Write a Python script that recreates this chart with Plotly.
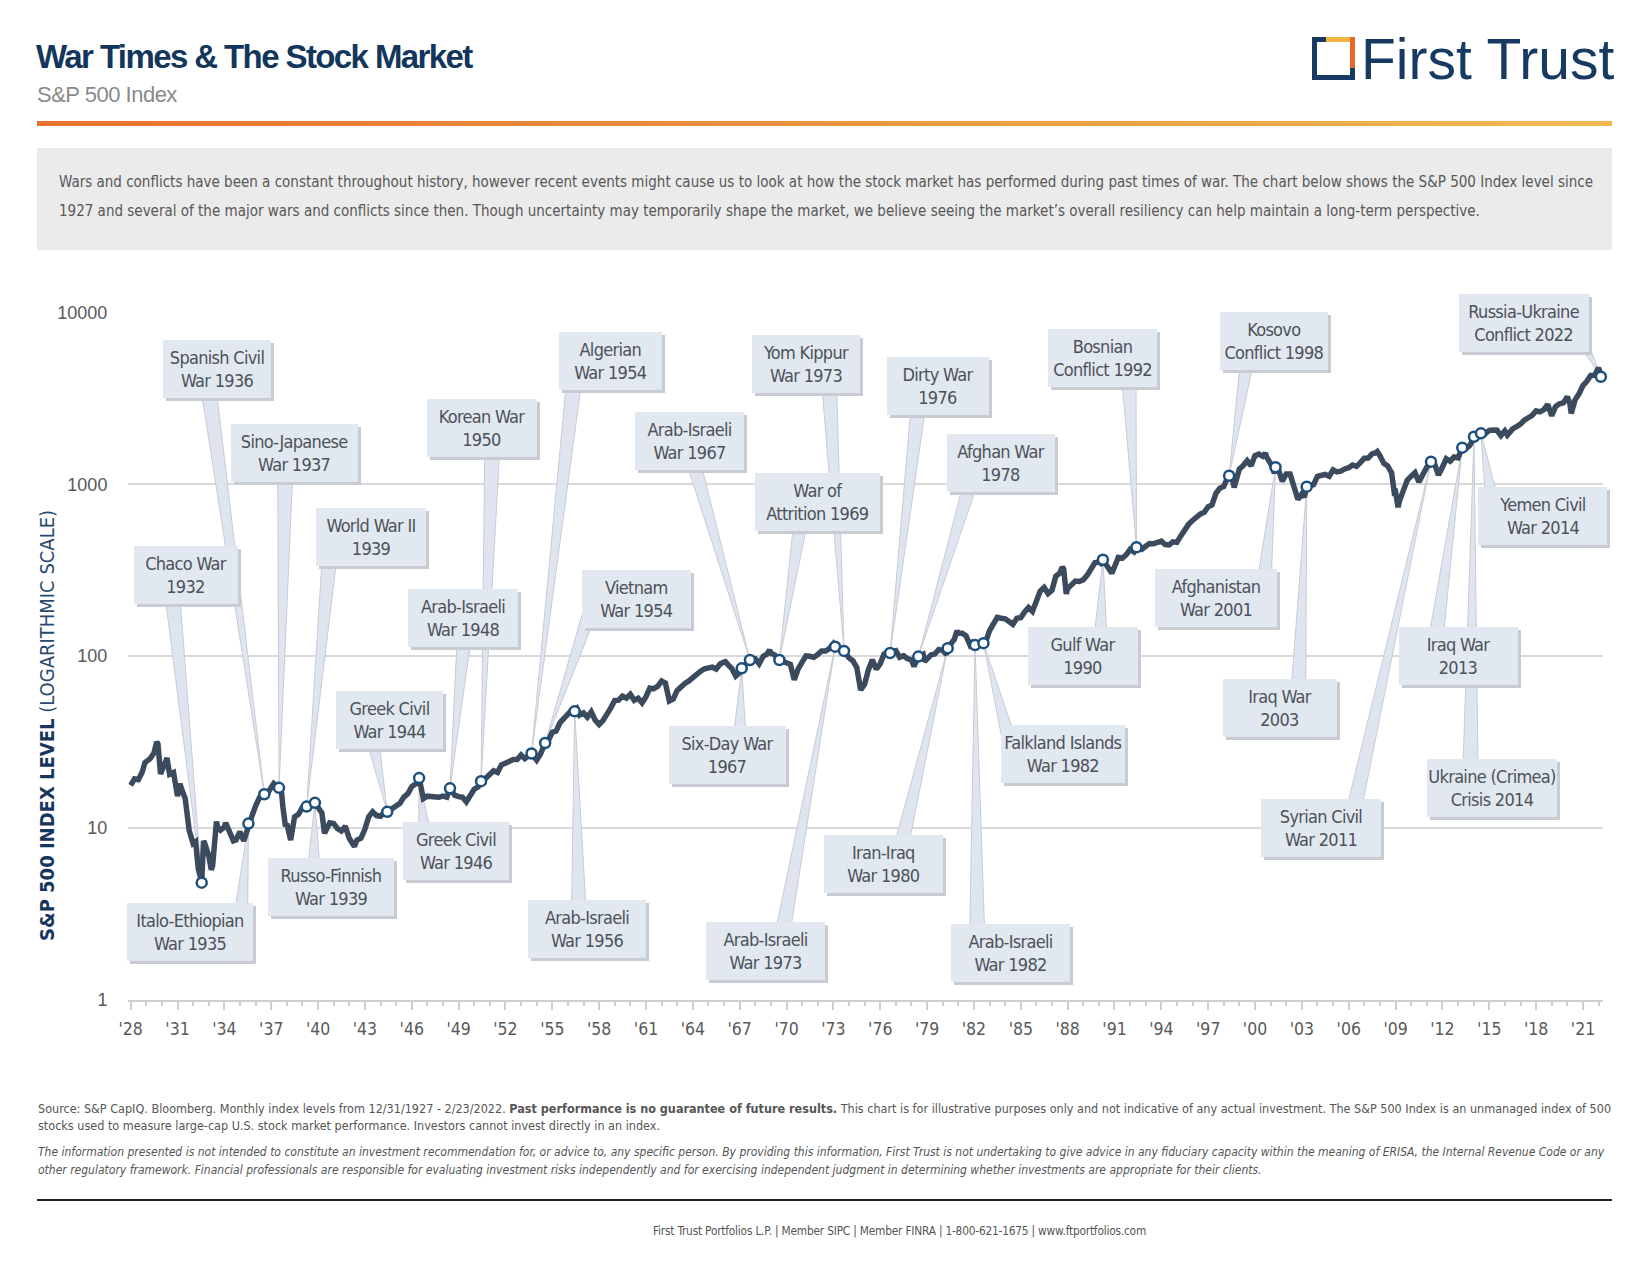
import math
import calendar
from datetime import datetime, timedelta
import plotly.graph_objects as go

W, H = 1650, 1275
COND = "DejaVu Sans Condensed, DejaVu Sans, sans-serif"
SANS = "Liberation Sans, Arial, sans-serif"

# ---------------- data: S&P 500 month-end levels (read / estimated) ----------------
SP_DATES = [
    '1927-12', '1928-03', '1928-06', '1928-09', '1928-11', '1928-12', '1929-03', '1929-06', '1929-08', '1929-09',
    '1929-10', '1929-11', '1929-12', '1930-03', '1930-04', '1930-06', '1930-09', '1930-12', '1931-02', '1931-03',
    '1931-06', '1931-09', '1931-12', '1932-02', '1932-03', '1932-04', '1932-08', '1932-09', '1932-12', '1933-02',
    '1933-03', '1933-06', '1933-07', '1933-09', '1933-12', '1934-01', '1934-03', '1934-07', '1934-09', '1934-12',
    '1935-03', '1935-09', '1935-12', '1936-03', '1936-09', '1936-12', '1937-02', '1937-08', '1937-09', '1937-11',
    '1937-12', '1938-03', '1938-06', '1938-09', '1938-12', '1940-03', '1940-05', '1940-09', '1940-12', '1941-03',
    '1941-06', '1941-09', '1941-12', '1942-04', '1942-06', '1942-09', '1942-12', '1943-03', '1943-06', '1943-09',
    '1943-12', '1944-03', '1944-09', '1944-12', '1945-03', '1945-06', '1945-09', '1945-12', '1946-03', '1946-09',
    '1946-12', '1947-03', '1947-06', '1947-09', '1947-12', '1948-03', '1948-09', '1948-12', '1949-03', '1949-06',
    '1949-09', '1949-12', '1950-03', '1950-09', '1950-12', '1951-03', '1951-06', '1951-09', '1951-12', '1952-03',
    '1952-06', '1952-09', '1952-12', '1953-03', '1953-12', '1954-03', '1954-09', '1954-12', '1955-03', '1955-06',
    '1955-09', '1955-12', '1956-03', '1956-07', '1956-09', '1956-12', '1957-03', '1957-06', '1957-09', '1957-12',
    '1958-03', '1958-06', '1958-09', '1958-12', '1959-03', '1959-06', '1959-09', '1959-12', '1960-03', '1960-06',
    '1960-09', '1960-12', '1961-03', '1961-06', '1961-09', '1961-12', '1962-03', '1962-06', '1962-09', '1962-12',
    '1963-03', '1963-06', '1963-09', '1963-12', '1964-03', '1964-06', '1964-09', '1964-12', '1965-03', '1965-06',
    '1965-09', '1965-12', '1966-01', '1966-03', '1966-06', '1966-09', '1966-12', '1967-12', '1968-03', '1968-06',
    '1968-09', '1968-11', '1968-12', '1969-03', '1969-09', '1969-12', '1970-03', '1970-06', '1970-09', '1970-12',
    '1971-03', '1971-06', '1971-09', '1971-12', '1972-03', '1972-06', '1972-09', '1972-12', '1973-12', '1974-03',
    '1974-06', '1974-09', '1974-12', '1975-03', '1975-06', '1975-09', '1975-12', '1976-03', '1976-12', '1977-03',
    '1977-06', '1977-09', '1977-12', '1978-02', '1978-09', '1978-10', '1978-12', '1979-03', '1979-06', '1979-09',
    '1979-12', '1980-03', '1980-09', '1980-11', '1980-12', '1981-03', '1981-06', '1981-09', '1981-12', '1982-09',
    '1982-12', '1983-03', '1983-06', '1983-09', '1983-12', '1984-03', '1984-06', '1984-09', '1984-12', '1985-03',
    '1985-06', '1985-09', '1985-12', '1986-03', '1986-06', '1986-09', '1986-12', '1987-03', '1987-06', '1987-08',
    '1987-09', '1987-11', '1987-12', '1988-03', '1988-06', '1988-09', '1988-12', '1989-03', '1989-06', '1989-09',
    '1989-12', '1990-03', '1990-10', '1990-12', '1991-03', '1991-06', '1991-09', '1991-12', '1992-03', '1992-09',
    '1992-12', '1993-03', '1993-06', '1993-09', '1993-12', '1994-03', '1994-06', '1994-09', '1994-12', '1995-03',
    '1995-06', '1995-09', '1995-12', '1996-03', '1996-06', '1996-09', '1996-12', '1997-03', '1997-06', '1997-09',
    '1997-12', '1998-03', '1998-06', '1998-08', '1998-09', '1998-12', '1999-03', '1999-06', '1999-09', '1999-12',
    '2000-03', '2000-06', '2000-08', '2000-09', '2000-12', '2001-03', '2001-06', '2001-09', '2001-12', '2002-03',
    '2002-06', '2002-09', '2002-12', '2003-02', '2003-06', '2003-09', '2003-12', '2004-03', '2004-06', '2004-09',
    '2004-12', '2005-03', '2005-06', '2005-09', '2005-12', '2006-03', '2006-06', '2006-09', '2006-12', '2007-03',
    '2007-06', '2007-09', '2007-10', '2007-12', '2008-03', '2008-06', '2008-09', '2008-11', '2008-12', '2009-02',
    '2009-03', '2009-06', '2009-09', '2009-12', '2010-03', '2010-06', '2010-09', '2010-12', '2011-03', '2011-06',
    '2011-09', '2011-12', '2012-03', '2012-06', '2012-09', '2012-12', '2013-03', '2013-06', '2013-09', '2013-12',
    '2014-03', '2014-09', '2014-12', '2015-03', '2015-06', '2015-09', '2015-12', '2016-02', '2016-06', '2016-09',
    '2016-12', '2017-03', '2017-06', '2017-09', '2017-12', '2018-03', '2018-06', '2018-09', '2018-12', '2019-03',
    '2019-06', '2019-09', '2019-12', '2020-02', '2020-03', '2020-06', '2020-09', '2020-12', '2021-03', '2021-06',
    '2021-09', '2021-12', '2022-01',
]
SP_VALUES = [
    17.66, 19.3, 19.1, 21.2, 24.0, 24.4, 25.3, 27.3, 31.7, 30.8,
    25.0, 20.6, 21.5, 24.9, 25.5, 20.5, 21.0, 15.3, 18.1, 17.0,
    14.8, 9.7, 8.1, 8.3, 7.3, 5.8, 8.4, 8.1, 6.9, 5.7,
    6.0, 10.9, 10.0, 9.7, 10.1, 10.7, 10.0, 8.4, 8.5, 9.5,
    8.4, 11.6, 13.4, 15.0, 15.8, 17.2, 18.1, 16.0, 13.3, 10.2,
    10.6, 8.5, 11.6, 12.0, 13.2, 12.2, 9.3, 10.7, 10.6, 9.9,
    9.6, 10.2, 8.7, 7.8, 8.5, 8.7, 9.8, 11.6, 12.4, 11.8,
    11.7, 12.3, 12.9, 13.3, 13.9, 15.1, 15.8, 17.4, 18.0, 14.8,
    15.3, 15.2, 15.0, 15.1, 15.3, 15.1, 15.5, 15.2, 15.1, 14.2,
    15.6, 16.8, 17.3, 19.5, 20.4, 21.5, 21.0, 23.3, 23.8, 24.4,
    25.0, 25.0, 26.6, 25.3, 24.8, 26.9, 32.3, 36.0, 36.6, 41.0,
    43.7, 45.5, 48.5, 49.4, 45.4, 46.7, 44.1, 47.4, 42.4, 40.0,
    42.1, 45.2, 50.0, 55.2, 55.4, 58.5, 56.9, 59.9, 55.3, 56.9,
    53.5, 58.1, 65.1, 64.6, 66.7, 71.6, 69.6, 54.8, 56.3, 63.1,
    66.6, 69.4, 71.7, 75.0, 78.9, 81.7, 84.2, 84.8, 86.2, 84.1,
    90.0, 92.4, 92.9, 89.2, 84.7, 76.6, 80.3, 96.5, 90.2, 99.6,
    102.7, 108.4, 103.9, 101.5, 93.1, 92.1, 89.6, 72.7, 84.3, 92.2,
    100.3, 99.7, 98.3, 102.1, 107.2, 107.1, 110.6, 118.1, 97.6, 94.0,
    86.0, 63.5, 68.6, 83.4, 95.2, 83.9, 90.2, 102.8, 107.5, 98.4,
    100.5, 96.5, 95.1, 87.0, 102.5, 93.2, 96.1, 101.6, 102.9, 109.3,
    107.9, 102.1, 125.5, 140.5, 135.8, 136.0, 131.2, 116.2, 122.6, 120.4,
    140.6, 153.0, 168.1, 166.1, 164.9, 159.2, 153.2, 166.1, 167.2, 180.7,
    191.9, 182.1, 211.3, 238.9, 250.8, 231.3, 242.2, 291.7, 304.0, 329.8,
    321.8, 230.3, 247.1, 258.9, 273.5, 271.9, 277.7, 294.9, 318.0, 349.2,
    353.4, 339.9, 304.0, 330.2, 375.2, 371.2, 387.9, 417.1, 403.7, 417.8,
    435.7, 451.7, 450.5, 458.9, 466.5, 445.8, 444.3, 462.7, 459.3, 500.7,
    544.8, 584.4, 615.9, 645.5, 670.6, 687.3, 740.7, 757.1, 885.1, 947.3,
    970.4, 1101.8, 1133.8, 957.3, 1017.0, 1229.2, 1286.4, 1372.7, 1282.7, 1469.3,
    1498.6, 1454.6, 1517.7, 1436.5, 1320.3, 1160.3, 1224.4, 1040.9, 1148.1, 1147.4,
    989.8, 815.3, 879.8, 841.2, 974.5, 996.0, 1111.9, 1126.2, 1140.8, 1114.6,
    1211.9, 1180.6, 1191.3, 1228.8, 1248.3, 1294.8, 1270.2, 1335.9, 1418.3, 1420.9,
    1503.4, 1526.8, 1549.4, 1468.4, 1322.7, 1280.0, 1166.4, 896.2, 903.3, 735.1,
    797.9, 919.3, 1057.1, 1115.1, 1169.4, 1030.7, 1141.2, 1257.6, 1325.8, 1320.6,
    1131.4, 1257.6, 1408.5, 1362.2, 1440.7, 1426.2, 1569.2, 1606.3, 1681.6, 1848.4,
    1872.3, 1972.3, 2058.9, 2067.9, 2063.1, 1920.0, 2043.9, 1932.2, 2098.9, 2168.3,
    2238.8, 2362.7, 2423.4, 2519.4, 2673.6, 2640.9, 2718.4, 2914.0, 2506.9, 2834.4,
    2941.8, 2976.7, 3230.8, 2954.2, 2584.6, 3100.3, 3363.0, 3756.1, 3972.9, 4297.5,
    4307.5, 4766.2, 4515.6,
]

# ---------------- data: wars & conflicts (date as decimal year, index level) ----------------
WAR_LABELS = [
    'Chaco War<br>1932', 'Italo-Ethiopian<br>War 1935', 'Spanish Civil<br>War 1936', 'Sino-Japanese<br>War 1937',
    'World War II<br>1939', 'Russo-Finnish<br>War 1939', 'Greek Civil<br>War 1944', 'Greek Civil<br>War 1946',
    'Arab-Israeli<br>War 1948', 'Korean War<br>1950', 'Algerian<br>War 1954', 'Vietnam<br>War 1954',
    'Arab-Israeli<br>War 1956', 'Six-Day War<br>1967', 'Arab-Israeli<br>War 1967', 'War of<br>Attrition 1969',
    'Arab-Israeli<br>War 1973', 'Yom Kippur<br>War 1973', 'Dirty War<br>1976', 'Afghan War<br>1978',
    'Iran-Iraq<br>War 1980', 'Arab-Israeli<br>War 1982', 'Falkland Islands<br>War 1982', 'Gulf War<br>1990',
    'Bosnian<br>Conflict 1992', 'Kosovo<br>Conflict 1998', 'Afghanistan<br>War 2001', 'Iraq War<br>2003',
    'Syrian Civil<br>War 2011', 'Iraq War<br>2013', 'Ukraine (Crimea)<br>Crisis 2014', 'Yemen Civil<br>War 2014',
    'Russia-Ukraine<br>Conflict 2022',
]
WAR_YEARS = [
    1932.55, 1935.54, 1936.56, 1937.50, 1939.27, 1939.80, 1944.43, 1946.47,
    1948.45, 1950.44, 1953.67, 1954.54, 1956.43, 1967.13, 1967.66, 1969.54,
    1973.11, 1973.68, 1976.63, 1978.44, 1980.32, 1982.07, 1982.61, 1990.26,
    1992.41, 1998.34, 2001.31, 2003.31, 2011.27, 2013.27, 2014.02, 2014.47,
    2022.15,
]
WAR_VALUES = [
    4.8, 10.6, 15.7, 17.1, 13.3, 14.0, 12.4, 19.5,
    17.0, 18.7, 27.1, 31.2, 47.7, 84.9, 94.9, 94.9,
    113.5, 107.2, 104.2, 99.3, 111.2, 115.9, 118.9, 364.0,
    430.0, 1123.0, 1258.0, 969.0, 1355.0, 1634.0, 1892.0, 1980.0,
    4225.5,
]

TICK_YEARS = [1928, 1931, 1934, 1937, 1940, 1943, 1946, 1949, 1952, 1955, 1958, 1961, 1964, 1967, 1970, 1973,
              1976, 1979, 1982, 1985, 1988, 1991, 1994, 1997, 2000, 2003, 2006, 2009, 2012, 2015, 2018, 2021]
TICK_TEXT = ["'28", "'31", "'34", "'37", "'40", "'43", "'46", "'49", "'52", "'55", "'58", "'61", "'64", "'67", "'70",
             "'73", "'76", "'79", "'82", "'85", "'88", "'91", "'94", "'97", "'00", "'03", "'06", "'09", "'12", "'15",
             "'18", "'21"]
Y_TICKS = [1, 10, 100, 1000, 10000]
Y_TICK_TEXT = ['1', '10', '100', '1000', '10000']

# ---------------- layout: callout box placement ----------------
# box centre (decimal year, log10 level), box width (px), pointer base offset from box centre (px)
CALLOUT_YEAR = [
    1931.56, 1931.77, 1933.52, 1938.50, 1943.42, 1940.80, 1944.57, 1948.81,
    1949.29, 1950.50, 1958.72, 1960.40, 1957.24, 1966.20, 1963.77, 1972.00,
    1968.63, 1971.25, 1979.68, 1983.72, 1976.24, 1984.33, 1987.70, 1988.98,
    1990.26, 2001.24, 1997.47, 2001.58, 2004.21, 2013.03, 2015.19, 2018.42,
    2017.21,
]
CALLOUT_LOG = [
    2.475, 0.392, 3.669, 3.185, 2.695, 0.655, 1.629, 0.864,
    2.224, 3.326, 3.718, 2.334, 0.410, 1.427, 3.253, 2.897,
    0.282, 3.700, 3.571, 3.124, 0.790, 0.270, 1.433, 2.003,
    3.737, 3.835, 2.340, 1.697, 0.998, 2.003, 1.231, 2.818,
    3.939,
]
CALLOUT_W = [
    104, 126, 108, 127, 110, 126, 107, 106,
    110, 110, 103, 109, 118, 117, 109, 125,
    119, 108, 102, 108, 119, 119, 124, 110,
    109, 108, 122, 114, 120, 119, 130, 129,
    130,
]
CALLOUT_DX = [
    -16, 50, -11, -9, -40, -17, -21, -29,
    3, 11, -34, -42, -8, 12, -2, -14,
    14, 22, -17, -24, 13, -33, -50, 17,
    25, -24, 47, 18, 29, -25, -22, -48,
    49,
]


def month_end(s):
    y, m = map(int, s.split('-'))
    return datetime(y, m, calendar.monthrange(y, m)[1])


def from_year(yf):
    y = int(math.floor(yf))
    start = datetime(y, 1, 1)
    days = (datetime(y + 1, 1, 1) - start).days
    return start + timedelta(days=(yf - y) * days)


def ds(d):
    return d.strftime('%Y-%m-%d')


def pxx(x):
    return x / W


def pxy(y):
    return 1 - y / H


def spaced(text, ls):
    return '<br>'.join("<span style='letter-spacing:%spx'>%s</span>" % (ls, t) for t in text.split('<br>'))


# axes geometry (pixels) and x range
PL, PR = 128.4, 1602.7
PT, PB = 312.5, 999.7
X0, X1 = 1927.857, 2022.265
YEARS_PER_PX = (X1 - X0) / (PR - PL)

# merge index readings with the event readings so markers sit on the line
pts = {month_end(d): v for d, v in zip(SP_DATES, SP_VALUES)}
for yr, v in zip(WAR_YEARS, WAR_VALUES):
    pts[from_year(yr)] = v
line_x = sorted(pts)
line_y = [pts[d] for d in line_x]

war_x = [from_year(y) for y in WAR_YEARS]

fig = go.Figure()

# callout pointers (wedges)
HW = 8 * YEARS_PER_PX
wx, wy = [], []
for i in range(len(WAR_LABELS)):
    ly = CALLOUT_YEAR[i] + CALLOUT_DX[i] * YEARS_PER_PX
    lv = 10 ** CALLOUT_LOG[i]
    wx += [ds(war_x[i]), ds(from_year(ly - HW)), ds(from_year(ly + HW)), ds(war_x[i]), None]
    wy += [WAR_VALUES[i], lv, lv, WAR_VALUES[i], None]
fig.add_trace(go.Scatter(x=wx, y=wy, mode='lines', fill='toself', fillcolor='#dfe5ee',
                         line=dict(color='#c6ccd6', width=1), hoverinfo='skip', showlegend=False))

fig.add_trace(go.Scatter(x=[ds(d) for d in line_x], y=line_y, mode='lines',
                         line=dict(color='#3c4a5d', width=5.5), hoverinfo='skip', showlegend=False))
fig.add_trace(go.Scatter(x=[ds(d) for d in war_x], y=WAR_VALUES, mode='markers', cliponaxis=False,
                         marker=dict(symbol='circle', size=10, color='white',
                                     line=dict(color='#1d4f7c', width=2.5)),
                         hoverinfo='skip', showlegend=False))

annotations = []
shapes = []

# callout boxes (shadow first, then box)
for layer in ('shadow', 'box'):
    for i, lab in enumerate(WAR_LABELS):
        a = dict(x=ds(from_year(CALLOUT_YEAR[i])), y=CALLOUT_LOG[i], xref='x', yref='y', showarrow=False,
                 width=CALLOUT_W[i], height=58, borderpad=0, borderwidth=0, align='center', valign='middle',
                 text=spaced(lab, -0.7))
        if layer == 'shadow':
            a.update(bgcolor='#c8ccd2', xshift=3, yshift=-3,
                     font=dict(family=COND, size=18, color='rgba(0,0,0,0)'))
        else:
            a.update(bgcolor='#e2e8f0', font=dict(family=COND, size=18, color='#4c5259'))
        annotations.append(a)

# title & subtitle
annotations.append(dict(xref='paper', yref='paper', x=pxx(34), y=pxy(56), xanchor='left', yanchor='middle',
                        showarrow=False,
                        text="<b><span style='letter-spacing:-1.6px'>War Times &amp; The Stock Market</span></b>",
                        font=dict(family=SANS, size=33, color='#13365c')))
annotations.append(dict(xref='paper', yref='paper', x=pxx(35), y=pxy(94), xanchor='left', yanchor='middle',
                        showarrow=False, text="<span style='letter-spacing:-0.5px'>S&amp;P 500 Index</span>",
                        font=dict(family=SANS, size=22, color='#8a8a8a')))
# logo text
annotations.append(dict(xref='paper', yref='paper', x=pxx(1616), y=pxy(59), xanchor='right', yanchor='middle',
                        showarrow=False, text='First Trust',
                        font=dict(family=SANS, size=57, color='#173a63')))

# intro box text
intro = [
    'Wars and conflicts have been a constant throughout history, however recent events might cause us to look at how the stock market has performed during past times of war. The chart below shows the S&amp;P 500 Index level since',
    '1927 and several of the major wars and conflicts since then. Though uncertainty may temporarily shape the market, we believe seeing the market\u2019s overall resiliency can help maintain a long-term perspective.',
]
for k, t in enumerate(intro):
    annotations.append(dict(xref='paper', yref='paper', x=pxx(57), y=pxy(182 + 29 * k), xanchor='left',
                            yanchor='middle', showarrow=False, text=t,
                            font=dict(family=COND, size=15.0, color='#575757')))

# y-axis title
annotations.append(dict(xref='paper', yref='paper', x=pxx(47), y=pxy(726), xanchor='center', yanchor='middle',
                        showarrow=False, textangle=-90,
                        text='<b>S&amp;P 500 INDEX LEVEL</b> <span style="color:#2a4a70">(LOGARITHMIC SCALE)</span>',
                        font=dict(family=COND, size=20, color='#17365d')))

# footer
foot = [
    (1108, 12.5, 'Source: S&amp;P CapIQ. Bloomberg. Monthly index levels from 12/31/1927 - 2/23/2022. <b>Past performance is no guarantee of future results.</b> This chart is for illustrative purposes only and not indicative of any actual investment. The S&amp;P 500 Index is an unmanaged index of 500'),
    (1125, 12.5, 'stocks used to measure large-cap U.S. stock market performance. Investors cannot invest directly in an index.'),
    (1152, 12.0, '<i>The information presented is not intended to constitute an investment recommendation for, or advice to, any specific person. By providing this information, First Trust is not undertaking to give advice in any fiduciary capacity within the meaning of ERISA, the Internal Revenue Code or any</i>'),
    (1170, 12.0, '<i>other regulatory framework. Financial professionals are responsible for evaluating investment risks independently and for exercising independent judgment in determining whether investments are appropriate for their clients.</i>'),
]
for yy, sz, t in foot:
    annotations.append(dict(xref='paper', yref='paper', x=pxx(36), y=pxy(yy), xanchor='left', yanchor='middle',
                            showarrow=False, text=t, font=dict(family=COND, size=sz, color='#555555')))
annotations.append(dict(xref='paper', yref='paper', x=pxx(900), y=pxy(1231), xanchor='center', yanchor='middle',
                        showarrow=False,
                        text="<span style='letter-spacing:-0.2px'>First Trust Portfolios L.P. | Member SIPC | Member FINRA | 1-800-621-1675 | www.ftportfolios.com</span>",
                        font=dict(family=COND, size=11.8, color='#555555')))

# gradient rule under title
N = 70
x0, x1 = 37, 1612
c0, c1 = (0xe8, 0x72, 0x2c), (0xf1, 0xb8, 0x52)
for k in range(N):
    t = k / (N - 1)
    col = 'rgb(%d,%d,%d)' % tuple(round(a + (b - a) * t) for a, b in zip(c0, c1))
    xa = x0 + (x1 - x0) * k / N
    xb = x0 + (x1 - x0) * (k + 1) / N + 0.6
    shapes.append(dict(type='rect', xref='paper', yref='paper', x0=pxx(xa), x1=pxx(min(xb, x1)),
                       y0=pxy(126), y1=pxy(121), fillcolor=col, line=dict(width=0), layer='above'))

# intro gray box
shapes.append(dict(type='rect', xref='paper', yref='paper', x0=pxx(37), x1=pxx(1612), y0=pxy(250), y1=pxy(148),
                   fillcolor='#ebebeb', line=dict(width=0), layer='below'))
# footer rule
shapes.append(dict(type='line', xref='paper', yref='paper', x0=pxx(37), x1=pxx(1612), y0=pxy(1200), y1=pxy(1200),
                   line=dict(color='#222222', width=2)))

# logo square
NAVY = '#173a63'
logo = [
    (1312, 1317, 37, 80, NAVY),
    (1312, 1355, 75, 80, NAVY),
    (1312, 1326, 37, 42, NAVY),
    (1326, 1355, 37, 42, '#f2b544'),
    (1350, 1355, 37, 68, '#e8682a'),
    (1350, 1355, 68, 80, NAVY),
]
for a, b, c, d, col in logo:
    shapes.append(dict(type='rect', xref='paper', yref='paper', x0=pxx(a), x1=pxx(b), y0=pxy(d), y1=pxy(c),
                       fillcolor=col, line=dict(width=0)))

fig.update_layout(
    width=W, height=H, margin=dict(l=0, r=0, t=0, b=0, autoexpand=False),
    paper_bgcolor='white', plot_bgcolor='white', showlegend=False,
    annotations=annotations, shapes=shapes,
    xaxis=dict(type='date', domain=[PL / W, PR / W], automargin=False,
               range=[ds(from_year(X0)), ds(from_year(X1))],
               showgrid=False, zeroline=False, showline=True, linecolor='#cfcfcf', linewidth=2,
               ticks='outside', ticklen=8, tickwidth=2, tickcolor='#cfcfcf', ticklabelstandoff=4,
               tickmode='array', tickvals=[ds(datetime(y, 1, 1)) for y in TICK_YEARS], ticktext=TICK_TEXT,
               tickfont=dict(family=COND, size=17.5, color='#595959'),
               minor=dict(tickmode='array', tickvals=[ds(datetime(y, 1, 1)) for y in range(1928, 2023)],
                          ticks='outside', ticklen=4, tickwidth=1.5, tickcolor='#cfcfcf', showgrid=False)),
    yaxis=dict(type='log', domain=[1 - PB / H, 1 - PT / H], range=[0, 4], automargin=False,
               tickmode='array', tickvals=Y_TICKS, ticktext=Y_TICK_TEXT,
               showgrid=True, gridcolor='#d9d9d9', gridwidth=2, zeroline=False, showline=False, ticks='',
               ticklabelstandoff=20,
               tickfont=dict(family=SANS, size=18, color='#595959')),
)

fig.write_html('out.html', config={'displayModeBar': False},
               post_script="document.body.style.margin='0px';")
